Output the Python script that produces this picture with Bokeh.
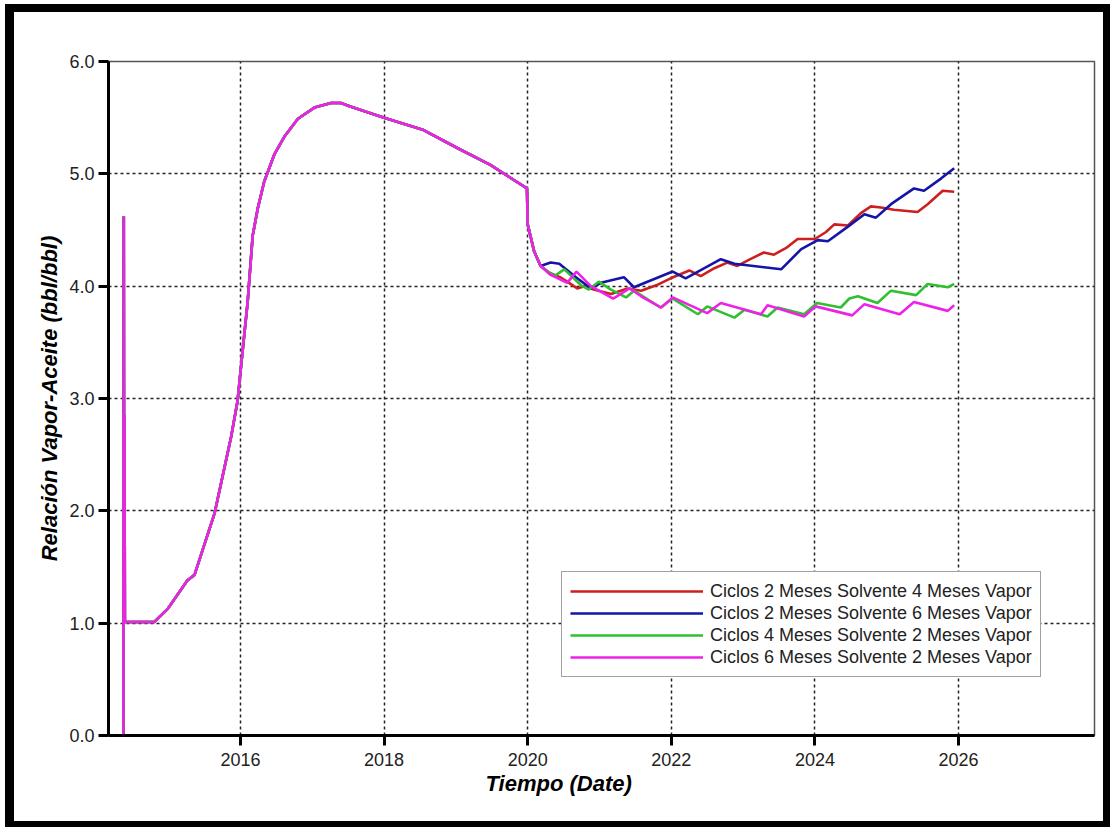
from bokeh.plotting import figure
from bokeh.models import Range1d, FixedTicker, Legend, LegendItem, Title, PrintfTickFormatter
from bokeh.embed import file_html
from bokeh.resources import INLINE

# ---- data (decimal years, bbl/bbl) ----
hist_t = [2014.162, 2014.37, 2014.375, 2014.38, 2014.385, 2014.39, 2014.80, 2014.99, 2015.26, 2015.36,
          2015.64, 2015.87, 2015.96, 2016.01, 2016.10, 2016.17, 2016.24, 2016.33, 2016.47, 2016.61,
          2016.80, 2017.03, 2017.26, 2017.40, 2017.53, 2018.00, 2018.55, 2019.02, 2019.48, 2019.99,
          2020.00, 2020.09, 2020.18]
hist_v = [0.0, 0.0, 4.62, 1.01, 2.85, 1.01, 1.01, 1.13, 1.38, 1.43,
          1.98, 2.66, 2.98, 3.30, 3.86, 4.45, 4.69, 4.93, 5.17, 5.33,
          5.49, 5.59, 5.63, 5.63, 5.60, 5.50, 5.39, 5.23, 5.08, 4.87,
          4.55, 4.31, 4.18]

red_t = [2020.18, 2020.30, 2020.45, 2020.55, 2020.69, 2020.79, 2020.92, 2021.16, 2021.39, 2021.58,
         2021.80, 2021.99, 2022.10, 2022.25, 2022.41, 2022.60, 2022.78, 2022.92, 2023.10, 2023.29,
         2023.43, 2023.60, 2023.76, 2024.00, 2024.15, 2024.27, 2024.46, 2024.64, 2024.78, 2024.92,
         2025.10, 2025.43, 2025.57, 2025.78, 2025.94]
red_v = [4.18, 4.12, 4.08, 4.04, 3.98, 4.00, 3.97, 3.93, 3.98, 3.96,
         4.01, 4.07, 4.10, 4.14, 4.09, 4.16, 4.21, 4.18, 4.24, 4.30,
         4.28, 4.34, 4.42, 4.42, 4.48, 4.55, 4.54, 4.65, 4.71, 4.70,
         4.68, 4.66, 4.73, 4.85, 4.84]

blue_t = [2020.18, 2020.32, 2020.44, 2020.69, 2020.88, 2021.02, 2021.34, 2021.48, 2022.02, 2022.20,
          2022.69, 2022.88, 2023.53, 2023.81, 2024.04, 2024.18, 2024.46, 2024.69, 2024.85, 2025.06,
          2025.38, 2025.52, 2025.76, 2025.94]
blue_v = [4.18, 4.21, 4.20, 4.07, 3.98, 4.03, 4.08, 3.99, 4.13, 4.07,
          4.24, 4.20, 4.15, 4.33, 4.41, 4.40, 4.53, 4.64, 4.61, 4.73,
          4.87, 4.85, 4.96, 5.05]

green_t = [2020.18, 2020.37, 2020.51, 2020.74, 2020.85, 2020.99, 2021.16, 2021.37, 2021.48, 2021.85,
           2022.02, 2022.37, 2022.50, 2022.88, 2023.02, 2023.34, 2023.48, 2023.85, 2024.03, 2024.36,
           2024.48, 2024.60, 2024.87, 2025.06, 2025.41, 2025.57, 2025.85, 2025.94]
green_v = [4.18, 4.09, 4.15, 4.01, 3.97, 4.04, 3.97, 3.90, 3.96, 3.81,
           3.89, 3.75, 3.82, 3.72, 3.79, 3.73, 3.81, 3.75, 3.85, 3.81,
           3.89, 3.91, 3.85, 3.96, 3.92, 4.02, 3.99, 4.02]

mag_t = [2020.18, 2020.32, 2020.55, 2020.68, 2020.88, 2021.19, 2021.42, 2021.58, 2021.86, 2022.02,
         2022.50, 2022.69, 2023.25, 2023.34, 2023.85, 2024.01, 2024.52, 2024.69, 2025.18, 2025.38,
         2025.85, 2025.94]
mag_v = [4.18, 4.10, 4.03, 4.13, 4.00, 3.89, 3.98, 3.91, 3.81, 3.90,
         3.76, 3.85, 3.75, 3.83, 3.73, 3.82, 3.74, 3.84, 3.75, 3.86,
         3.78, 3.83]

labels = ["Ciclos 2 Meses Solvente 4 Meses Vapor",
          "Ciclos 2 Meses Solvente 6 Meses Vapor",
          "Ciclos 4 Meses Solvente 2 Meses Vapor",
          "Ciclos 6 Meses Solvente 2 Meses Vapor"]
colors = ["#cc1f1f", "#1414a8", "#2ec02e", "#ee22e6"]
x_ticks = [2016, 2018, 2020, 2022, 2024, 2026]
y_ticks = [0, 1, 2, 3, 4, 5, 6]

FONT = "Liberation Sans"

p = figure(width=1105, height=823, output_backend="svg", toolbar_location=None,
           x_range=Range1d(2014.162, 2027.894), y_range=Range1d(0, 6),
           min_border_left=94, min_border_right=25, min_border_top=49, min_border_bottom=100)
p.styles = {"border-style": "solid", "border-color": "black",
            "border-width": "8px 7px 6px 9px", "margin": "4px 0 0 5px"}
p.background_fill_color = "white"
p.border_fill_color = "white"
p.outline_line_color = "#555555"
p.outline_line_width = 1.5

items = []
series = [(red_t, red_v), (blue_t, blue_v), (green_t, green_v), (mag_t, mag_v)]
for (t, v), lab, col in zip(series, labels, colors):
    r = p.line(hist_t + t[1:], hist_v + v[1:], line_color=col, line_width=2.6)
    items.append(LegendItem(label=lab, renderers=[r]))

for ax in (p.xaxis[0], p.yaxis[0]):
    ax.axis_line_color = "black"
    ax.axis_line_width = 3
    ax.major_tick_line_color = "black"
    ax.major_tick_line_width = 3
    ax.major_tick_out = 10
    ax.major_tick_in = 0
    ax.minor_tick_line_color = None
    ax.major_label_text_font = FONT
    ax.major_label_text_font_size = "18px"
    ax.major_label_text_color = "#222222"

p.xaxis.ticker = FixedTicker(ticks=x_ticks)
p.xaxis.formatter = PrintfTickFormatter(format="%d")
p.xaxis.major_label_standoff = 7
p.yaxis.ticker = FixedTicker(ticks=y_ticks)
p.yaxis.formatter = PrintfTickFormatter(format="%.1f")
p.yaxis.major_label_standoff = 4

p.yaxis.axis_label = "Relación Vapor-Aceite (bbl/bbl)"
p.yaxis.axis_label_text_font = FONT
p.yaxis.axis_label_text_font_size = "22px"
p.yaxis.axis_label_text_font_style = "bold italic"
p.yaxis.axis_label_text_color = "black"
p.yaxis.axis_label_standoff = 4

p.xgrid.ticker = FixedTicker(ticks=x_ticks)
p.ygrid.ticker = FixedTicker(ticks=y_ticks)
for g in (p.xgrid[0], p.ygrid[0]):
    g.grid_line_color = "#222222"
    g.grid_line_width = 1.5
    g.grid_line_dash = "3 3"

xtitle = Title(text="Tiempo (Date)", align="left", offset=377, standoff=0,
               text_font=FONT, text_font_size="22px", text_font_style="bold italic",
               text_color="black")
p.add_layout(xtitle, "below")

legend = Legend(items=items, location=(453, 58))
legend.label_text_font = FONT
legend.label_text_font_size = "18px"
legend.label_text_color = "#222222"
legend.glyph_width = 133
legend.glyph_height = 22
legend.label_height = 22
legend.label_standoff = 7
legend.spacing = 0
legend.padding = 8
legend.margin = 0
legend.border_line_color = "#444444"
legend.border_line_width = 1
legend.background_fill_color = "white"
legend.background_fill_alpha = 1.0
p.add_layout(legend, "center")

open("out.html", "w").write(file_html(p, INLINE))
